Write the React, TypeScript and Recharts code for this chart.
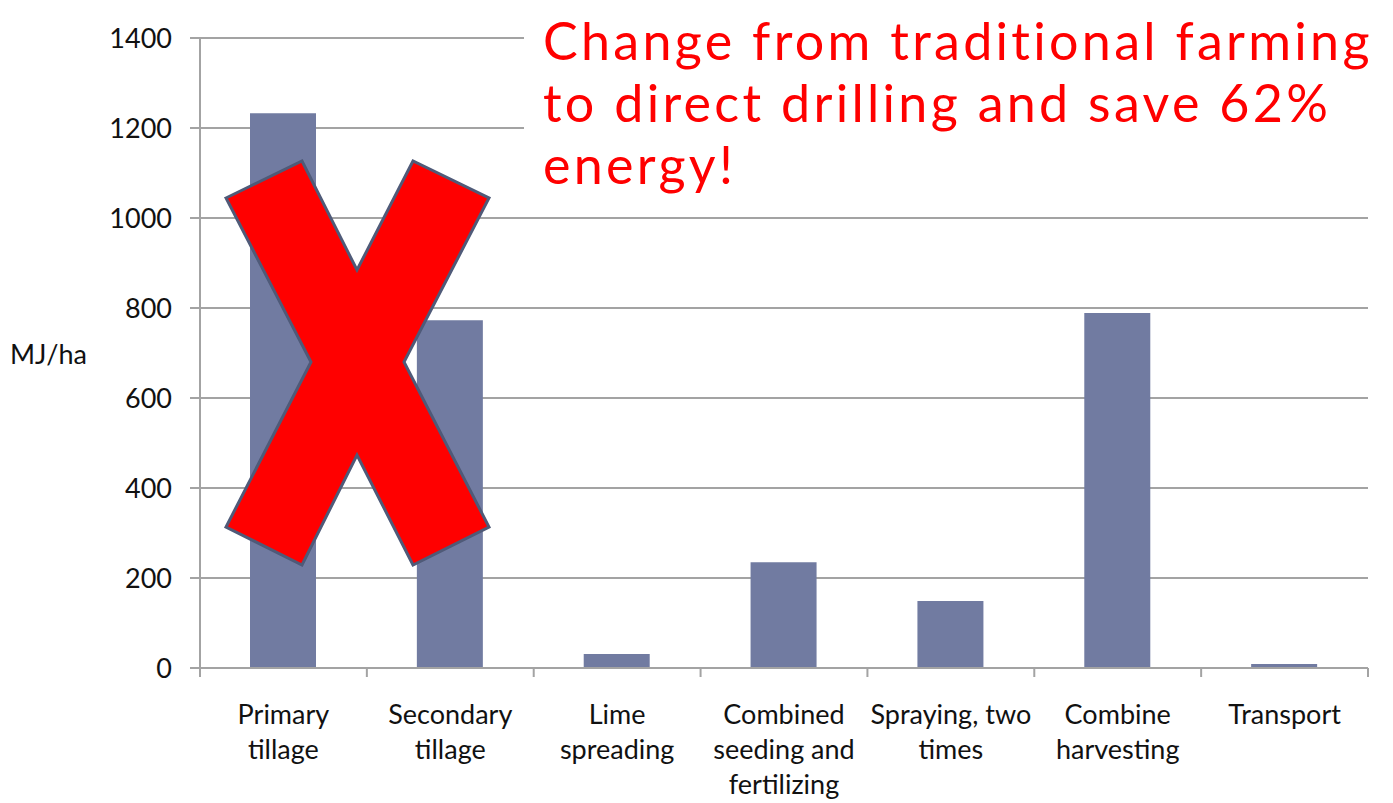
import React from 'react';
import { BarChart, Bar, XAxis, YAxis, CartesianGrid } from 'recharts';

const categories = [
  'Primary\ntillage',
  'Secondary\ntillage',
  'Lime\nspreading',
  'Combined\nseeding and\nfertilizing',
  'Spraying, two\ntimes',
  'Combine\nharvesting',
  'Transport',
];
const energyMJ = [1233, 773, 31, 235, 149, 789, 9];
const yTicks = [0, 200, 400, 600, 800, 1000, 1200, 1400];
const titleLines = ['Change from traditional farming', 'to direct drilling and save 62%', 'energy!'];

const data = categories.map((name, i) => ({ name, value: energyMJ[i] }));

const FONT = 'Lato, "Open Sans", sans-serif';
const GRID = '#a3a3a3';

// label + tick marks on the category boundaries (Excel style)
const CategoryTick = (props: any) => {
  const { x, y, payload, index, visibleTicksCount } = props;
  const count = visibleTicksCount || categories.length;
  const bw = (Number(props.width) || 1168) / count;
  const lines = String(payload.value).split('\n');
  return (
    <g>
      <line x1={x - bw / 2} x2={x - bw / 2} y1={y} y2={y + 9} stroke={GRID} strokeWidth={2} />
      {index === count - 1 && (
        <line x1={x + bw / 2} x2={x + bw / 2} y1={y} y2={y + 9} stroke={GRID} strokeWidth={2} />
      )}
      {lines.map((l, i) => (
        <text key={i} x={x} y={y + 56 + i * 35} textAnchor="middle" fill="#111" fontSize={27} fontFamily={FONT}>
          {l}
        </text>
      ))}
    </g>
  );
};

// cross drawn over the tillage bars
const crossPts = '226,198 302,161 357,270 413,161 489,198 404,362 489,527 413,565 357,455 302,565 226,527 311,362';

const App: React.FC = () => {
  return (
    <div style={{ position: 'relative', width: 1393, height: 803, background: '#fff' }}>
      <style>{`body{margin:0}`}</style>
      <BarChart
        width={1393}
        height={803}
        data={data}
        margin={{ top: 38, right: 25, bottom: 0, left: 0 }}
      >
        <CartesianGrid vertical={false} stroke={GRID} strokeWidth={2} />
        <XAxis
          dataKey="name"
          tickLine={false}
          tickSize={0}
          tickMargin={0}
          stroke={GRID}
          strokeWidth={2}
          height={135}
          interval={0}
          tick={<CategoryTick />}
        />
        <YAxis
          domain={[0, 1400]}
          ticks={yTicks}
          width={200}
          tickSize={10}
          tickMargin={18}
          stroke={GRID}
          strokeWidth={2}
          tick={{ fill: '#111', fontSize: 27, fontFamily: FONT }}
        />
        <Bar dataKey="value" fill="#717ba1" barSize={66} isAnimationActive={false} />
      </BarChart>
      <svg
        width={1393}
        height={803}
        style={{ position: 'absolute', left: 0, top: 0, pointerEvents: 'none' }}
      >
        <text x={10} y={364} fontSize={27} fontFamily={FONT} fill="#111">MJ/ha</text>
        <polygon points={crossPts} fill="#ff0000" stroke="#4f5a78" strokeWidth={3} strokeLinejoin="miter" />
        <rect x={524} y={0} width={869} height={205} fill="#fff" />
        {titleLines.map((t, i) => (
          <text key={i} x={543} y={60 + i * 62} fontSize={52} letterSpacing={3.3} fontFamily={FONT} fill="#ff0000">
            {t}
          </text>
        ))}
      </svg>
    </div>
  );
};

export default App;
